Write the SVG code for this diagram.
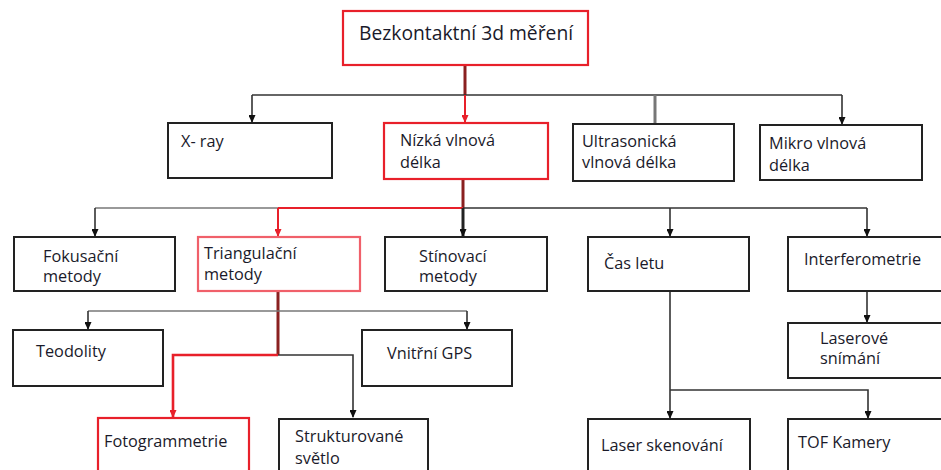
<svg xmlns="http://www.w3.org/2000/svg" width="941" height="470" viewBox="0 0 941 470">
<style>
.box{fill:#fff;stroke:#222;stroke-width:2}
.red{fill:#fff;stroke:#e8202a;stroke-width:2.2}
.t{font-family:"Open Sans","DejaVu Sans",sans-serif;font-size:16.3px;fill:#1a1a2a}
.c{fill:none;stroke:#333;stroke-width:1.6}
.cl{fill:none;stroke:#777;stroke-width:1.4}
.cr{fill:none;stroke:#e8202a;stroke-width:2}
.cd{fill:none;stroke:#8a2020;stroke-width:3}
.ck{fill:none;stroke:#222;stroke-width:3}
</style>
<defs>
<marker id="arr" markerWidth="8" markerHeight="7" refX="7" refY="3.5" orient="auto" markerUnits="userSpaceOnUse"><path d="M0,0 L8,3.5 L0,7 Z" fill="#111"/></marker>
<marker id="arrR" markerWidth="8" markerHeight="7" refX="7" refY="3.5" orient="auto" markerUnits="userSpaceOnUse"><path d="M0,0 L8,3.5 L0,7 Z" fill="#e8202a"/></marker>
</defs>

<g id="connectors">
  <path class="cd" d="M465,65 V95"/>
  <path class="c" d="M252,95 H842"/>
  <path class="c" d="M252,95 V122" marker-end="url(#arr)"/>
  <path class="cr" d="M465,95 V122" marker-end="url(#arrR)"/>
  <path class="cl" d="M655,95 V124" style="stroke-width:3"/>
  <path class="c" d="M842,95 V124" marker-end="url(#arr)"/>
  <path class="cd" d="M463,179 V208"/>
  <path class="cl" d="M95,208 H278"/>
  <path class="c" d="M463,208 H867"/>
  <path class="cr" d="M278,208 H463"/>
  <path class="c" d="M95,208 V236" marker-end="url(#arr)"/>
  <path class="cr" d="M278,208 V236" marker-end="url(#arrR)"/>
  <path class="ck" d="M463,208 V236" marker-end="url(#arr)"/>
  <path class="c" d="M670,208 V236" marker-end="url(#arr)"/>
  <path class="c" d="M867,208 V236" marker-end="url(#arr)"/>
  <path class="cd" d="M278,291 V355"/>
  <path class="cl" d="M88,311 H467"/>
  <path class="c" d="M88,311 V329" marker-end="url(#arr)"/>
  <path class="c" d="M467,311 V329" marker-end="url(#arr)"/>
  <path class="cr" d="M278,355 H173 V417" style="stroke-width:2.6" marker-end="url(#arrR)"/>
  <path class="c" d="M278,355 H353 V417" marker-end="url(#arr)"/>
  <path class="c" d="M670,291 V418" marker-end="url(#arr)"/>
  <path class="c" d="M670,390 H868 V418" marker-end="url(#arr)"/>
  <path class="c" d="M867,291 V322" marker-end="url(#arr)"/>
</g>

<g id="root"><rect class="red" x="343" y="11" width="245" height="54"/><text class="t" x="359" y="40" style="font-size:19.3px">Bezkontaktní 3d měření</text></g>

<g id="xray"><rect class="box" x="168" y="123" width="164" height="55"/><text class="t" x="181" y="147">X- ray</text></g>
<g id="nizka"><rect class="red" x="384" y="123" width="164" height="56"/><text class="t" x="400" y="146">Nízká vlnová</text><text class="t" x="400" y="168">délka</text></g>
<g id="ultra"><rect class="box" x="573" y="124" width="161" height="57"/><text class="t" x="582" y="147">Ultrasonická</text><text class="t" x="582" y="168">vlnová délka</text></g>
<g id="mikro"><rect class="box" x="760" y="125" width="162" height="55"/><text class="t" x="769" y="149">Mikro vlnová</text><text class="t" x="769" y="171">délka</text></g>

<g id="fokus"><rect class="box" x="14" y="237" width="161" height="54"/><text class="t" x="43" y="262">Fokusační</text><text class="t" x="43" y="282">metody</text></g>
<g id="triang"><rect class="red" x="198" y="237" width="162" height="54" style="stroke:#f0606a"/><text class="t" x="204" y="259">Triangulační</text><text class="t" x="204" y="280">metody</text></g>
<g id="stin"><rect class="box" x="385" y="237" width="162" height="54"/><text class="t" x="419" y="262">Stínovací</text><text class="t" x="419" y="282">metody</text></g>
<g id="cas"><rect class="box" x="588" y="237" width="161" height="54"/><text class="t" x="604" y="269">Čas letu</text></g>
<g id="interf"><rect class="box" x="788" y="237" width="160" height="54"/><text class="t" x="804" y="265">Interferometrie</text></g>

<g id="teod"><rect class="box" x="13" y="330" width="150" height="56"/><text class="t" x="36" y="357">Teodolity</text></g>
<g id="gps"><rect class="box" x="362" y="330" width="150" height="56"/><text class="t" x="387" y="359">Vnitřní GPS</text></g>
<g id="laserove"><rect class="box" x="788" y="323" width="160" height="55"/><text class="t" x="820" y="344">Laserové</text><text class="t" x="820" y="364">snímání</text></g>

<g id="foto"><rect class="red" x="98" y="418" width="151" height="60"/><text class="t" x="104" y="447">Fotogrammetrie</text></g>
<g id="strukt"><rect class="box" x="279" y="419" width="149" height="60"/><text class="t" x="295" y="442">Strukturované</text><text class="t" x="295" y="464">světlo</text></g>
<g id="laserskn"><rect class="box" x="588" y="419" width="162" height="60"/><text class="t" x="601" y="451">Laser skenování</text></g>
<g id="tof"><rect class="box" x="788" y="419" width="160" height="60"/><text class="t" x="798" y="448">TOF Kamery</text></g>
</svg>
